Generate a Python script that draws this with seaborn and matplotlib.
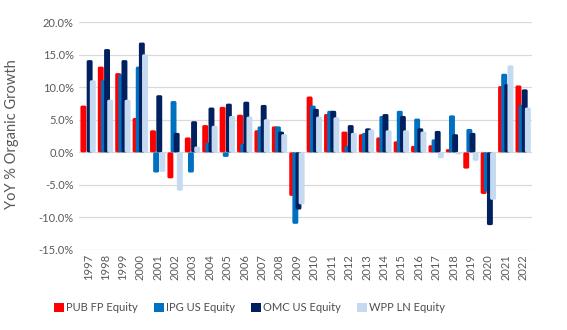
import numpy as np
import pandas as pd
import matplotlib
matplotlib.use("Agg")
import matplotlib.pyplot as plt
import seaborn as sns
from matplotlib.patches import Patch, Rectangle, FancyBboxPatch
from matplotlib.ticker import FuncFormatter

# Year-over-year organic growth (%) of the four big agency holding companies
years = list(range(1997, 2023))
pub = [7.2, 13.2, 12.2, 5.3, 3.4, -4.0, 2.3, 4.2, 7.0, 5.8, 3.4, 4.0, -6.7,
       8.6, 5.9, 3.2, 2.8, 2.3, 1.7, 1.0, 1.1, 0.5, -2.5, -6.4, 10.2, 10.3]
ipg = [np.nan, 11.1, 12.0, 13.2, -3.1, 7.9, -3.1, 1.5, -0.7, 1.3, 4.0, 4.0, -11.0,
       7.2, 6.4, 1.0, 3.0, 5.6, 6.4, 5.2, 2.0, 5.7, 3.6, -6.0, 12.1, 7.3]
omc = [14.2, 15.9, 14.2, 16.9, 8.8, 3.0, 4.8, 6.9, 7.5, 7.8, 7.3, 3.2, -8.8,
       6.7, 6.4, 4.2, 3.7, 5.9, 5.6, 3.7, 3.3, 2.8, 3.0, -11.2, 10.5, 9.7]
wpp = [11.1, 8.1, 8.1, 15.1, -3.0, -5.9, 0.9, 4.1, 5.6, 5.5, 5.1, 2.8, -8.0,
       5.5, 5.4, 3.0, 3.5, 3.4, 3.4, 3.2, -0.9, -0.3, -1.3, -7.3, 13.4, 6.9]

series_names = ["PUB FP Equity", "IPG US Equity", "OMC US Equity", "WPP LN Equity"]
series_values = [pub, ipg, omc, wpp]
colors = ["#FF0000", "#0070C0", "#002060", "#C5D9F1"]
y_ticks = [-15, -10, -5, 0, 5, 10, 15, 20]

sns.set_theme(style="white")
plt.rcParams["font.family"] = ["Lato", "DejaVu Sans"]

fig = plt.figure(figsize=(5.67, 3.30), dpi=100)
ax = fig.add_axes([0.140, 0.243, 0.798, 0.689])

# Overlapping clustered bars: each series is shifted a little to the right
bar_w = 0.34
step = 0.18
offsets = [(-1.5 + i) * step for i in range(4)]
for name, vals, col, off in zip(series_names, series_values, colors, offsets):
    df = pd.DataFrame({"x": np.array(years, dtype=float) + off, "y": vals}).dropna()
    sns.barplot(data=df, x="x", y="y", native_scale=True, width=bar_w,
                color=col, saturation=1, errorbar=None, linewidth=0, ax=ax)

ax.set_xlim(1996.5, 2022.5)
ax.set_ylim(-15, 20)

# Give the bars softly rounded corners (same pixel radius in x and y)
bbox = ax.get_window_extent()
aspect = (35 / bbox.height) / (26 / bbox.width)
r0 = 0.09
for rect in [p for p in ax.patches if isinstance(p, Rectangle)]:
    x, y = rect.get_x(), rect.get_y()
    w, h = rect.get_width(), rect.get_height()
    if h < 0:
        y, h = y + h, -h
    r = min(r0, w / 2, h / aspect / 2)
    fb = FancyBboxPatch((x, y), w, h, boxstyle=f"round,pad=0,rounding_size={r:.5f}",
                        mutation_aspect=aspect, facecolor=rect.get_facecolor(),
                        edgecolor="none", linewidth=0, zorder=rect.get_zorder())
    rect.remove()
    ax.add_patch(fb)

ax.set_yticks(y_ticks)
ax.yaxis.set_major_formatter(FuncFormatter(lambda v, _: f"{v:.1f}%"))
ax.set_xticks(years)
ax.set_xticklabels([str(y) for y in years], rotation=90)
ax.tick_params(axis="both", length=0, labelsize=8, labelcolor="#595959")
ax.tick_params(axis="x", pad=3)
ax.tick_params(axis="y", pad=4)
ax.set_xlabel("")
ax.set_ylabel("")
ax.grid(axis="y", color="#D9D9D9", linewidth=0.9)
ax.grid(axis="x", visible=False)
ax.set_axisbelow(True)
for s in ax.spines.values():
    s.set_visible(False)

fig.text(0.022, 0.595, "YoY % Organic Growth", rotation=90, ha="center", va="center",
         fontsize=10.5, color="#595959")

handles = [Patch(facecolor=c, edgecolor="none") for c in colors]
fig.legend(handles, series_names, loc="center", bbox_to_anchor=(0.44, 0.068), ncol=4,
           frameon=False, fontsize=8, handlelength=0.9, handleheight=0.9,
           handletextpad=0.2, columnspacing=1.45, labelcolor="#4d4d4d")

fig.savefig("out.png", dpi=100, facecolor="white")
